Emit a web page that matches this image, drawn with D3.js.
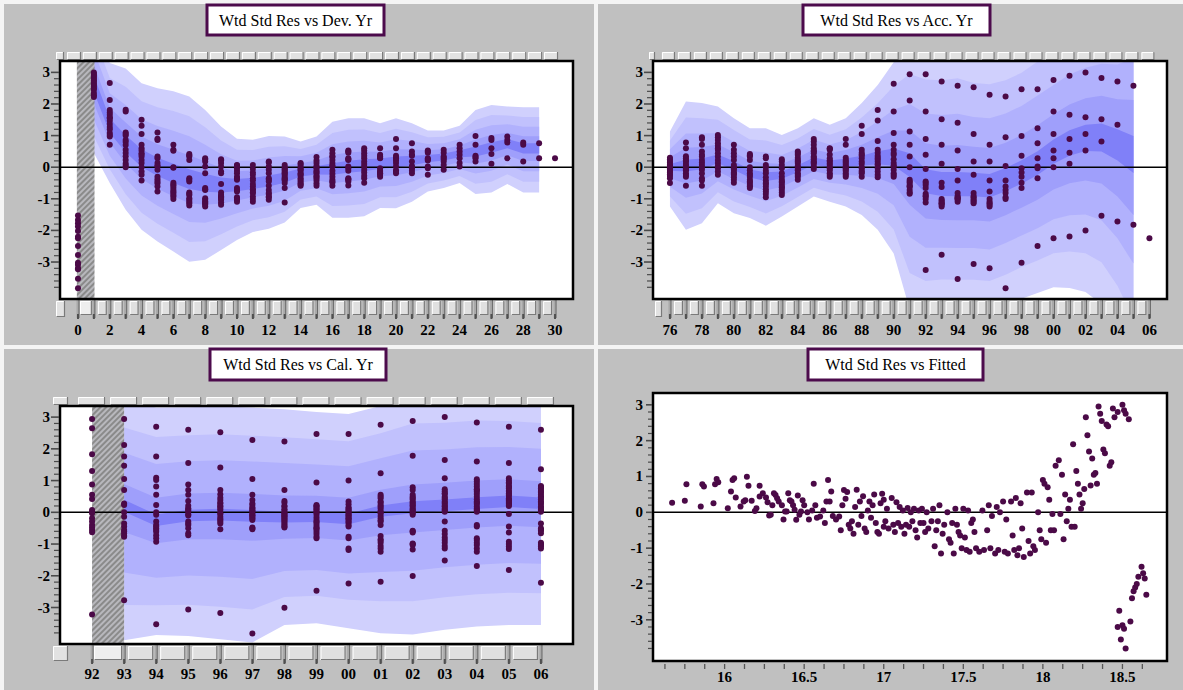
<!DOCTYPE html>
<html><head><meta charset="utf-8">
<script src="https://cdn.jsdelivr.net/npm/d3@7"></script>
<style>
html,body{margin:0;padding:0;background:#f2f2f2;}
svg{display:block;}
</style></head>
<body>
<svg id="chart" width="1183" height="690" font-family="'Liberation Serif','Times New Roman',serif"></svg>
<script>
// ---------- data ----------
const residualTicks = [3, 2, 1, 0, -1, -2, -3];

// development years and residuals per development year
const devYears = d3.range(0, 31);
const devResiduals = [
  [-1.53,-1.67,-1.77,-1.88,-2.02,-2.2,-2.25,-2.49,-2.78,-3.02,-3.09,-3.2,-3.23,-3.53,-3.83],
  [3.0,2.95,2.9,2.85,2.8,2.75,2.7,2.65,2.6,2.55,2.5,2.45,2.35,2.28,2.22],
  [2.66,2.13,1.81,1.73,1.66,1.58,1.55,1.47,1.37,1.27,1.2,1.08,1.02,0.97,0.71],
  [1.82,1.76,1.1,1.05,1.0,0.86,0.8,0.7,0.55,0.45,0.35,0.23,0.12,0.05,0.0],
  [1.5,1.31,1.05,0.71,0.6,0.53,0.44,0.4,0.34,0.23,0.13,0.0,-0.14,-0.24,-0.42],
  [1.1,0.9,0.86,0.34,0.28,0.13,0.05,0.02,-0.08,-0.3,-0.38,-0.45,-0.51,-0.61,-0.77],
  [0.71,0.55,0.52,0.0,-0.02,-0.49,-0.55,-0.59,-0.65,-0.72,-0.78,-0.82,-0.88,-0.93,-1.01],
  [0.42,0.38,0.34,0.23,-0.35,-0.4,-0.45,-0.8,-0.85,-0.88,-0.98,-1.03,-1.09,-1.14,-1.21],
  [0.28,0.25,0.18,0.02,-0.19,-0.66,-0.7,-0.72,-0.98,-1.03,-1.08,-1.12,-1.15,-1.19,-1.24],
  [0.25,0.22,0.13,0.02,-0.14,-0.19,-0.53,-0.8,-0.88,-0.92,-0.95,-1.0,-1.03,-1.12,-1.19],
  [0.07,0.05,-0.03,-0.11,-0.19,-0.3,-0.35,-0.4,-0.66,-0.72,-0.77,-0.95,-1.0,-1.03,-1.09],
  [0.07,-0.06,-0.17,-0.24,-0.35,-0.42,-0.53,-0.61,-0.7,-0.72,-0.8,-0.82,-0.93,-1.01,-1.09],
  [0.18,0.15,0.02,-0.08,-0.19,-0.35,-0.4,-0.45,-0.59,-0.72,-0.82,-0.85,-0.93,-0.95,-1.03],
  [0.07,0.0,-0.05,-0.08,-0.12,-0.17,-0.2,-0.24,-0.3,-0.35,-0.38,-0.42,-0.5,-0.66,-1.12],
  [0.13,0.1,0.04,-0.03,-0.07,-0.11,-0.19,-0.22,-0.27,-0.35,-0.4,-0.45,-0.51,-0.55,-0.59],
  [0.32,0.21,0.13,0.04,0.0,-0.03,-0.11,-0.15,-0.19,-0.27,-0.3,-0.35,-0.42,-0.51,-0.59],
  [0.55,0.44,0.35,0.32,0.23,0.13,0.05,0.02,-0.11,-0.21,-0.3,-0.4,-0.45,-0.49,-0.59],
  [0.53,0.5,0.46,0.28,0.25,0.23,0.02,-0.03,-0.11,-0.35,-0.38,-0.4,-0.45,-0.58],
  [0.6,0.53,0.44,0.36,0.28,0.18,0.1,0.02,-0.08,-0.17,-0.27,-0.35,-0.49],
  [0.6,0.39,0.35,0.3,0.28,-0.03,-0.11,-0.15,-0.19,-0.2,-0.24,-0.3],
  [0.89,0.6,0.36,0.3,0.28,0.21,0.13,0.02,-0.1,-0.14,-0.19],
  [0.76,0.5,0.4,0.36,0.18,0.04,0.0,-0.03,-0.11,-0.19],
  [0.53,0.5,0.46,0.28,0.25,0.21,0.02,-0.03,-0.24],
  [0.55,0.46,0.34,0.3,0.25,0.18,0.07,-0.08],
  [0.71,0.6,0.5,0.39,0.28,0.13,0.02],
  [0.99,0.71,0.36,0.32,0.28,0.18],
  [0.92,0.86,0.6,0.42,0.11],
  [0.97,0.86,0.78,0.28],
  [0.78,0.71,0.18],
  [0.76,0.28],
  [0.28]
];
// fan of the development-year trend: centre, upper and lower reach
const devBandX      = d3.range(1, 30);
const devBandCentre = [2.65,1.3,0.72,0.28,0.0,-0.2,-0.38,-0.48,-0.55,-0.55,-0.5,-0.43,-0.32,-0.16,-0.1,-0.05,0.02,0.07,0.12,0.17,0.22,0.28,0.33,0.43,0.5,0.63,0.75,0.6,0.6];
const devBandHi     = [2.0,2.0,2.4,2.38,2.5,2.6,2.62,2.29,1.84,1.45,1.37,1.42,1.29,0.97,1.07,1.49,1.53,1.48,1.27,1.38,1.17,0.88,0.83,0.88,1.31,1.34,1.17,1.3,1.3];
const devBandLo     = [2.2,1.8,2.07,2.26,2.35,2.47,2.61,2.45,2.07,1.75,1.55,1.52,1.43,1.13,1.09,1.55,1.62,1.62,1.41,1.47,1.31,1.05,0.99,0.93,1.35,1.43,1.28,1.4,1.4];
const devLevels     = [1, 0.76, 0.52, 0.29, 0.12];

// accident years and residuals per accident year
const accYears = d3.range(76, 107);
const accResiduals = [
  [0.3,0.25,0.2,0.15,0.08,0.05,0.0,-0.03,-0.08,-0.12,-0.17,-0.22,-0.28,-0.35,-0.5],
  [0.78,0.6,0.35,0.28,0.22,0.18,0.1,0.05,-0.03,-0.08,-0.1,-0.19,-0.25,-0.3,-0.59],
  [0.95,0.89,0.71,0.5,0.39,0.34,0.23,0.15,0.07,0.0,-0.08,-0.2,-0.35,-0.42,-0.59],
  [1.02,0.95,0.86,0.76,0.68,0.6,0.55,0.44,0.34,0.23,0.13,0.04,-0.03,-0.14,-0.24],
  [0.71,0.55,0.44,0.34,0.23,0.07,0.0,-0.05,-0.08,-0.17,-0.2,-0.24,-0.32,-0.4,-0.49],
  [0.42,0.38,0.34,0.23,0.0,-0.1,-0.19,-0.25,-0.3,-0.4,-0.45,-0.49,-0.56,-0.6,-0.66],
  [0.34,0.28,0.07,0.0,-0.11,-0.19,-0.32,-0.42,-0.5,-0.53,-0.61,-0.7,-0.77,-0.85,-0.95],
  [0.25,0.18,0.07,-0.03,-0.19,-0.3,-0.4,-0.45,-0.49,-0.56,-0.63,-0.65,-0.72,-0.8,-0.88],
  [0.5,0.45,0.39,0.3,0.23,0.18,0.13,0.04,0.0,-0.06,-0.1,-0.19,-0.25,-0.3,-0.4],
  [0.89,0.81,0.71,0.6,0.53,0.5,0.44,0.34,0.3,0.25,0.18,0.15,0.11,0.02,-0.06],
  [0.6,0.58,0.55,0.4,0.28,0.22,0.18,0.12,0.07,0.0,-0.03,-0.1,-0.19,-0.25,-0.3],
  [0.89,0.71,0.3,0.23,0.18,0.13,0.08,0.02,0.0,-0.03,-0.08,-0.12,-0.19,-0.25,-0.3],
  [1.31,1.05,0.55,0.46,0.4,0.36,0.28,0.18,0.11,0.0,-0.03,-0.11,-0.15,-0.19,-0.3],
  [1.81,1.48,0.83,0.55,0.46,0.36,0.3,0.25,0.18,0.1,0.07,-0.03,-0.14,-0.24,-0.32],
  [2.64,1.76,1.08,0.71,0.55,0.45,0.39,0.25,0.13,0.05,0.02,-0.08,-0.19,-0.25,-0.3],
  [2.94,2.11,1.13,0.71,0.34,0.0,-0.4,-0.45,-0.49,-0.56,-0.6,-0.63,-0.72,-0.8,-0.84],
  [2.94,1.76,0.89,0.39,-0.06,-0.45,-0.5,-0.56,-0.66,-0.84,-0.9,-0.93,-1.01,-1.12,-3.25],
  [2.71,1.52,0.71,0.11,-0.49,-0.63,-1.01,-1.05,-1.09,-1.14,-1.15,-1.19,-1.24,-2.77],
  [2.58,1.41,0.53,-0.06,-0.42,-0.82,-0.91,-0.95,-0.98,-1.0,-1.03,-1.09,-3.54],
  [2.53,1.05,0.18,-0.24,-0.82,-0.91,-0.95,-1.01,-1.05,-1.09,-1.14,-3.06],
  [2.29,0.71,0.18,-0.42,-0.77,-1.01,-1.09,-1.14,-1.19,-1.24,-3.2],
  [2.24,0.95,0.04,-0.42,-0.61,-0.72,-0.82,-0.95,-1.01,-3.83],
  [2.47,0.99,0.36,-0.03,-0.17,-0.3,-0.49,-0.66,-3.02],
  [2.47,1.23,0.76,0.28,0.02,-0.03,-0.35,-2.49],
  [2.76,1.76,1.05,0.53,0.28,0.0,-2.25],
  [2.89,1.66,0.89,0.46,0.11,-2.19],
  [3.0,1.58,1.05,0.53,-2.0],
  [2.82,1.52,0.81,-1.54],
  [2.71,1.34,-1.72],
  [2.58,-1.82],
  [-2.25]
];
const accTickLabels = ["76","78","80","82","84","86","88","90","92","94","96","98","00","02","04","06"];
const accBandX      = d3.range(76, 106);
const accBandCentre = [0.0,0.05,0.1,0.25,0.05,-0.2,-0.3,-0.25,-0.05,0.18,0.1,0.15,0.2,0.3,0.32,0.1,-0.45,-0.55,-0.56,-0.56,-0.6,-0.4,-0.16,0.12,0.5,0.78,0.95,0.97,0.75,0.45];
const accBandHi     = [1.13,2.03,1.93,1.67,1.5,1.43,1.53,1.27,1.28,1.37,1.24,1.4,1.83,2.3,3.0,3.8,4.3,4.4,4.5,4.3,4.3,4.2,4.2,4.3,4.2,4.3,4.4,4.6,5.0,6.0];
const accBandLo     = [1.24,2.03,1.87,1.39,1.51,1.41,1.55,1.31,1.19,1.11,1.19,1.39,1.71,2.28,3.05,4.6,4.2,4.0,4.0,4.0,4.0,4.0,4.0,4.1,4.3,4.6,4.9,5.3,6.0,7.0];
const accLevels     = [1, 0.75, 0.5, 0.28, 0.09];

// calendar years and residuals per calendar year
const calYears = d3.range(92, 107);
const calResiduals = [
  [2.94,2.65,1.83,1.3,0.88,0.55,0.42,0.07,0.02,-0.03,-0.19,-0.29,-0.4,-0.48,-0.56,-0.63,-3.22],
  [2.94,2.12,1.76,1.47,1.05,0.7,0.28,0.23,0.0,-0.14,-0.35,-0.45,-0.56,-0.6,-0.66,-0.74,-0.77,-2.77],
  [2.7,1.76,1.09,1.02,0.81,0.55,0.23,0.0,-0.08,-0.29,-0.4,-0.45,-0.5,-0.56,-0.61,-0.72,-0.82,-0.93,-3.53],
  [2.6,1.55,0.88,0.7,0.55,0.36,0.21,0.13,0.1,0.05,0.02,-0.06,-0.1,-0.29,-0.35,-0.4,-0.5,-0.66,-0.72,-3.06],
  [2.52,1.41,0.7,0.57,0.46,0.39,0.3,0.28,0.2,0.18,0.12,0.07,-0.03,-0.05,-0.14,-0.2,-0.24,-0.3,-0.35,-0.53,-3.17],
  [2.28,1.05,0.55,0.39,0.28,0.23,0.15,0.13,0.07,0.05,0.02,-0.03,-0.08,-0.1,-0.12,-0.17,-0.2,-0.24,-0.48,-0.5,-0.53,-3.82],
  [2.23,0.7,0.36,0.3,0.2,0.18,0.1,0.07,0.0,-0.03,-0.05,-0.1,-0.12,-0.15,-0.19,-0.22,-0.27,-0.3,-0.35,-0.4,-0.45,-0.48,-3.01],
  [2.47,0.94,0.23,0.2,0.18,0.13,0.1,0.05,0.0,-0.01,-0.08,-0.16,-0.24,-0.3,-0.33,-0.4,-0.47,-0.5,-0.54,-0.61,-0.68,-0.77,-0.82,-2.47],
  [2.47,1.0,0.34,0.25,0.16,0.12,0.09,0.05,0.02,-0.03,-0.08,-0.1,-0.14,-0.19,-0.2,-0.24,-0.3,-0.33,-0.4,-0.45,-0.77,-0.82,-1.14,-1.19,-2.24],
  [2.76,1.23,0.55,0.5,0.44,0.34,0.3,0.23,0.18,0.13,0.05,0.0,-0.03,-0.12,-0.19,-0.25,-0.29,-0.4,-0.75,-0.85,-0.9,-0.96,-1.06,-1.14,-1.24,-2.19],
  [2.88,1.78,0.79,0.7,0.55,0.49,0.45,0.41,0.34,0.3,0.26,0.22,0.18,0.12,0.09,0.05,0.02,-0.03,-0.08,-0.58,-0.6,-0.64,-0.98,-1.0,-1.03,-1.17,-2.01],
  [3.0,1.65,1.07,0.73,0.66,0.6,0.58,0.49,0.45,0.41,0.34,0.3,0.26,0.2,0.18,0.12,0.09,0.05,0.02,-0.29,-0.58,-0.68,-0.79,-0.87,-0.96,-1.06,-1.14,-1.52],
  [2.83,1.6,1.04,0.97,0.89,0.81,0.73,0.7,0.65,0.58,0.49,0.41,0.34,0.3,0.26,0.18,0.12,0.09,0.05,0.02,-0.4,-0.45,-0.82,-0.87,-0.96,-1.03,-1.14,-1.24,-1.69],
  [2.7,1.55,1.07,1.0,0.95,0.91,0.83,0.8,0.76,0.68,0.65,0.6,0.55,0.52,0.44,0.4,0.37,0.33,0.3,0.27,0.23,0.2,-0.05,-0.45,-0.64,-0.93,-1.0,-1.08,-1.16,-1.82],
  [2.6,1.36,0.83,0.8,0.76,0.7,0.65,0.62,0.55,0.5,0.47,0.41,0.34,0.3,0.26,0.18,0.15,0.09,0.05,0.02,-0.35,-0.5,-0.55,-0.58,-0.66,-0.96,-1.0,-1.03,-1.08,-1.14,-2.22]
];
const calTickLabels = ["92","93","94","95","96","97","98","99","00","01","02","03","04","05","06"];
const calBandX      = d3.range(93, 107);
const calBandCentre = [0.23,-0.25,-0.09,-0.06,-0.1,-0.15,-0.14,-0.2,0.05,0.17,0.23,0.3,0.36,0.3];
const calBandHi     = [3.3,3.55,3.4,3.4,3.4,3.4,3.3,3.3,3.3,3.55,3.5,3.5,3.4,3.4];
const calBandLo     = [4.26,3.62,3.81,3.94,4.0,3.4,3.36,3.45,3.86,4.02,3.93,3.9,3.91,3.85];
const calLevels     = [1, 0.74, 0.5, 0.2, 0.05];

// fitted values (log scale) with their residuals
const fittedPoints = [
  [15.67,0.27],[15.75,0.32],[15.76,0.78],[15.85,0.16],[15.86,0.78],[15.87,0.72],[15.93,0.25],[15.94,0.78],[15.95,0.93],[15.96,0.84],
  [16.02,0.11],[16.04,0.58],[16.05,0.9],[16.06,0.95],[16.07,0.41],[16.10,0.16],[16.12,0.3],[16.13,0.34],[16.14,0.99],[16.15,0.74],
  [16.17,0.32],[16.19,0.04],[16.2,0.11],[16.22,0.44],[16.22,0.74],[16.24,0.53],[16.26,0.41],[16.27,0.28],[16.28,-0.09],[16.29,-0.07],
  [16.3,0.2],[16.31,0.53],[16.32,0.48],[16.33,0.39],[16.34,0.3],[16.36,0.2],[16.37,-0.2],[16.38,0.02],[16.39,0.02],[16.4,0.53],
  [16.41,0.34],[16.42,0.3],[16.43,0.2],[16.44,0.07],[16.45,-0.21],[16.46,0.47],[16.47,-0.07],[16.48,0.02],[16.49,0.34],[16.5,0.2],
  [16.52,0.0],[16.53,-0.2],[16.55,0.05],[16.56,0.8],[16.57,0.2],[16.58,-0.15],[16.6,-0.12],[16.62,0.05],[16.63,-0.3],[16.64,0.3],
  [16.65,0.9],[16.66,0.3],[16.67,0.58],[16.68,-0.1],[16.7,-0.2],[16.72,-0.12],[16.73,-0.5],[16.74,0.2],[16.75,0.62],[16.76,0.38],
  [16.77,0.57],[16.78,-0.35],[16.79,-0.45],[16.8,-0.25],[16.81,-0.6],[16.82,0.15],[16.83,0.63],[16.84,-0.35],[16.85,0.3],[16.86,-0.1],
  [16.87,0.45],[16.88,-0.45],[16.89,-0.55],[16.9,0.05],[16.91,0.3],[16.92,-0.15],[16.93,0.2],[16.94,0.5],[16.95,-0.3],[16.96,-0.55],
  [16.97,-0.6],[16.98,0.25],[16.99,0.52],[17.0,-0.4],[17.01,-0.25],[17.0,0.35],[17.02,0.1],[17.03,-0.45],[17.05,0.4],[17.06,-0.35],
  [17.07,-0.55],[17.08,0.28],[17.09,-0.3],[17.1,0.15],[17.11,-0.4],[17.12,0.05],[17.13,-0.6],[17.14,-0.35],[17.15,0.12],[17.16,-0.4],
  [17.17,0.0],[17.18,-0.25],[17.19,0.1],[17.2,-0.5],[17.21,-0.7],[17.22,0.05],[17.23,-0.3],[17.24,0.1],[17.25,-0.3],[17.26,-0.55],
  [17.27,0.0],[17.28,-0.45],[17.3,-0.25],[17.31,0.1],[17.32,-0.95],[17.33,-0.5],[17.34,-0.25],[17.35,0.2],[17.36,-1.15],[17.37,-0.6],
  [17.38,-0.35],[17.4,0.0],[17.41,-0.75],[17.42,-0.85],[17.43,-0.3],[17.44,-1.15],[17.45,0.1],[17.46,-0.35],[17.47,-0.55],[17.48,-0.65],
  [17.49,-1.0],[17.5,0.1],[17.51,-0.7],[17.52,-1.05],[17.53,0.05],[17.54,-1.1],[17.55,-0.3],[17.56,-0.2],[17.57,-0.55],[17.58,-1.0],
  [17.6,-1.1],[17.62,0.05],[17.63,-1.05],[17.65,-0.5],[17.66,0.2],[17.67,-1.0],[17.68,-0.1],[17.7,-1.15],[17.71,0.15],[17.72,-1.05],
  [17.73,0.0],[17.75,0.3],[17.76,-1.1],[17.77,-0.2],[17.78,-1.15],[17.8,0.3],[17.81,-0.65],[17.82,-1.05],[17.83,0.4],[17.84,-1.2],
  [17.85,-1.0],[17.86,0.25],[17.87,-0.45],[17.88,-1.25],[17.9,0.55],[17.91,-0.8],[17.92,-1.15],[17.93,0.55],[17.94,-0.95],[17.95,-1.05],
  [17.97,0.0],[17.98,-0.5],[17.99,-0.75],[18.0,0.9],[18.01,0.8],[18.02,-0.85],[18.03,0.7],[18.04,0.35],[18.05,-0.5],[18.06,-0.05],
  [18.07,-0.5],[18.08,1.3],[18.1,1.45],[18.11,-0.05],[18.12,1.05],[18.13,-0.75],[18.14,0.5],[18.15,-0.25],[18.16,0.1],[18.17,0.35],
  [18.18,-0.4],[18.19,1.9],[18.2,-0.4],[18.21,1.15],[18.22,0.8],[18.23,0.5],[18.24,0.1],[18.25,0.25],[18.26,0.65],[18.27,2.65],
  [18.28,2.15],[18.29,1.7],[18.3,0.75],[18.31,1.5],[18.32,1.05],[18.33,1.1],[18.34,0.8],[18.35,2.95],[18.36,2.75],[18.37,2.55],
  [18.38,1.75],[18.39,1.65],[18.4,2.45],[18.41,2.4],[18.42,1.3],[18.43,1.4],[18.44,2.9],[18.45,2.65],[18.47,2.8],[18.5,3.0],
  [18.51,2.85],[18.52,2.75],[18.54,2.6],
  [18.47,-3.2],[18.48,-2.75],[18.49,-3.55],[18.5,-3.15],[18.51,-3.25],[18.52,-3.8],[18.55,-3.05],[18.56,-2.4],[18.57,-2.2],[18.58,-2.1],
  [18.59,-2.0],[18.6,-1.8],[18.62,-1.52],[18.63,-1.7],[18.64,-1.85],[18.65,-2.3]
];
const fittedTicks = [16, 16.5, 17, 17.5, 18, 18.5];

// ---------- drawing ----------
const W = 1183, H = 690;
const bandColors = ["#d0d0fd", "#c1c1fd", "#b1b1fd", "#9f9ffb", "#8080f8"];
const pointColor = "#4b0a47";
const svg = d3.select("#chart");
const defs = svg.append("defs");

const hatch = defs.append("pattern").attr("id", "hatch")
  .attr("patternUnits", "userSpaceOnUse").attr("width", 4).attr("height", 4)
  .attr("patternTransform", "rotate(45)");
hatch.append("rect").attr("width", 4).attr("height", 4).attr("fill", "#8a8a8a");
hatch.append("line").attr("x1", 1).attr("y1", 0).attr("x2", 1).attr("y2", 4)
  .attr("stroke", "#e6e6f0").attr("stroke-width", 1);

svg.append("rect").attr("width", W).attr("height", H).attr("fill", "#f4f4f4");
[[4, 4, 590, 341], [598, 4, 585, 341], [4, 349, 590, 341], [598, 349, 585, 341]].forEach(([x, y, w, h]) =>
  svg.append("rect").attr("x", x).attr("y", y).attr("width", w).attr("height", h).attr("fill", "#c0c0c0"));

const fmtRes = v => (v < 0 ? "-" + Math.abs(v) : String(v));

function button(g, x, y, w, h, fill) {
  g.append("rect").attr("x", x).attr("y", y).attr("width", w).attr("height", h).attr("fill", fill || "#e2e2e2");
  g.append("path").attr("d", `M${x + 0.5},${y + h}V${y + 0.5}H${x + w}`)
    .attr("fill", "none").attr("stroke", "#ffffff").attr("stroke-width", 1);
  g.append("path").attr("d", `M${x + 0.5},${y + h - 0.5}H${x + w - 0.5}V${y}`)
    .attr("fill", "none").attr("stroke", "#7a7a7a").attr("stroke-width", 1.2);
}

function panel(cfg, idx) {
  const g = svg.append("g");
  const x = d3.scaleLinear().domain(cfg.xDomain).range([cfg.left, cfg.right]);
  const y = d3.scaleLinear().domain(cfg.yDomain).range([cfg.bottom, cfg.top]);

  // title box
  const tb = cfg.titleBox;
  g.append("rect").attr("x", tb[0]).attr("y", tb[1]).attr("width", tb[2]).attr("height", tb[3])
    .attr("fill", "#ffffff").attr("stroke", "#4c0b4c").attr("stroke-width", 3);
  g.append("text").attr("x", tb[0] + tb[2] / 2).attr("y", tb[1] + 21).attr("text-anchor", "middle")
    .attr("font-size", 16).attr("fill", "#000").text(cfg.title);

  // scroll-bar style strips above and below the plot
  if (cfg.topStrip) {
    const s = cfg.topStrip;
    button(g, s.first[0], cfg.top - 9, s.first[1], 8);
    s.keys.forEach(k => button(g, x(k) + s.off, cfg.top - 9, s.w, 8));
  }
  if (cfg.bottomStrip) {
    const s = cfg.bottomStrip, yb = cfg.bottom + 2;
    button(g, s.first[0], yb, s.first[1], s.first[2]);
    for (let i = 0; i < s.keys.length - 1; i++) {
      const a = s.keys[i], b = s.keys[i + 1];
      const sel = s.selected === a;
      button(g, x(a) + (sel ? 2 : 4), yb, x(b) - x(a) - (sel ? 4 : 7), 14, sel ? "#eeeeee" : "#e0e0e0");
    }
    s.keys.forEach(k => {
      g.append("rect").attr("x", x(k) - 1.5).attr("y", cfg.bottom + 1).attr("width", 3).attr("height", 18).attr("fill", "#a9a9a9");
      g.append("line").attr("x1", x(k) + 1).attr("x2", x(k) + 1).attr("y1", cfg.bottom + 1).attr("y2", cfg.bottom + 19)
        .attr("stroke", "#6a6a6a").attr("stroke-width", 1);
      g.append("line").attr("x1", x(k)).attr("x2", x(k)).attr("y1", cfg.bottom + 15).attr("y2", cfg.bottom + 20)
        .attr("stroke", "#505050").attr("stroke-width", 2);
    });
  }

  // plot area
  g.append("rect").attr("x", cfg.left).attr("y", cfg.top).attr("width", cfg.right - cfg.left)
    .attr("height", cfg.bottom - cfg.top).attr("fill", "#ffffff");
  const clipId = "clip" + idx;
  defs.append("clipPath").attr("id", clipId).append("rect")
    .attr("x", cfg.left).attr("y", cfg.top).attr("width", cfg.right - cfg.left).attr("height", cfg.bottom - cfg.top);
  const plot = g.append("g").attr("clip-path", `url(#${clipId})`);

  if (cfg.band) {
    const b = cfg.band;
    b.levels.forEach((lv, k) => {
      const area = d3.area()
        .x((d, i) => x(b.x[i]))
        .y0((d, i) => y(b.c[i] - b.lo[i] * lv))
        .y1((d, i) => y(b.c[i] + b.hi[i] * lv));
      plot.append("path").datum(b.x).attr("d", area).attr("fill", bandColors[k]);
    });
  }
  if (cfg.hatch) {
    plot.append("rect").attr("x", x(cfg.hatch[0])).attr("y", cfg.top)
      .attr("width", x(cfg.hatch[1]) - x(cfg.hatch[0])).attr("height", cfg.bottom - cfg.top)
      .attr("fill", "url(#hatch)");
  }
  plot.append("line").attr("x1", cfg.left).attr("x2", cfg.right).attr("y1", y(0)).attr("y2", y(0))
    .attr("stroke", "#000").attr("stroke-width", 1.5);

  plot.append("g").selectAll("circle").data(cfg.points).join("circle")
    .attr("cx", d => x(d[0])).attr("cy", d => y(d[1])).attr("r", 3).attr("fill", pointColor);

  g.append("rect").attr("x", cfg.left).attr("y", cfg.top).attr("width", cfg.right - cfg.left)
    .attr("height", cfg.bottom - cfg.top).attr("fill", "none").attr("stroke", "#000").attr("stroke-width", 2.5);

  // residual axis: labelled integers, minor marks every 0.2
  const ax = g.append("g");
  d3.range(-19, 16).forEach(k => {
    const major = k % 5 === 0;
    ax.append("line").attr("x1", cfg.left - (major ? cfg.yMajor : cfg.yMinor)).attr("x2", cfg.left - 1)
      .attr("y1", y(k / 5)).attr("y2", y(k / 5)).attr("stroke", "#4a4a4a").attr("stroke-width", major ? 1.6 : 1.2);
  });
  residualTicks.forEach(v => {
    ax.append("text").attr("x", cfg.left - 10).attr("y", y(v) + 5).attr("text-anchor", "end")
      .attr("font-size", 15).attr("font-weight", "bold").text(fmtRes(v));
  });

  // horizontal axis labels
  cfg.xLabels.forEach(([v, t]) => {
    g.append("text").attr("x", x(v)).attr("y", cfg.xLabelY).attr("text-anchor", "middle")
      .attr("font-size", 15).attr("font-weight", "bold").text(t);
  });
  if (cfg.xMinor) {
    cfg.xMinor.forEach(v => {
      g.append("line").attr("x1", x(v)).attr("x2", x(v)).attr("y1", cfg.bottom + 3).attr("y2", cfg.bottom + 8)
        .attr("stroke", "#555").attr("stroke-width", 1.3);
    });
  }
}

const flat = (keys, groups) => keys.flatMap((k, i) => groups[i].map(v => [k, v]));

panel({
  title: "Wtd Std Res vs Dev. Yr", titleBox: [207, 5, 177, 30],
  left: 60, right: 573, top: 61, bottom: 299,
  xDomain: [-1.13, 31.13], yDomain: [-4.17, 3.36], yMajor: 9, yMinor: 6,
  band: { x: devBandX, c: devBandCentre, hi: devBandHi, lo: devBandLo, levels: devLevels },
  hatch: [-0.07, 1.04],
  points: flat(devYears, devResiduals),
  topStrip: { first: [56, 8], keys: d3.range(0, 31), off: -11, w: 14 },
  bottomStrip: { first: [56, 9, 16], keys: d3.range(0, 31), selected: 0 },
  xLabels: d3.range(0, 31, 2).map(v => [v, String(v)]), xLabelY: 335
}, 0);

panel({
  title: "Wtd Std Res vs Acc. Yr", titleBox: [803, 5, 187, 30],
  left: 653, right: 1167, top: 61, bottom: 299,
  xDomain: [74.94, 107.1], yDomain: [-4.17, 3.36], yMajor: 9, yMinor: 6,
  band: { x: accBandX, c: accBandCentre, hi: accBandHi, lo: accBandLo, levels: accLevels },
  points: flat(accYears, accResiduals),
  topStrip: { first: [649, 6], keys: d3.range(76, 107), off: -8, w: 13 },
  bottomStrip: { first: [655, 7, 16], keys: d3.range(76, 107), selected: null },
  xLabels: accTickLabels.map((t, i) => [76 + 2 * i, t]), xLabelY: 335
}, 1);

panel({
  title: "Wtd Std Res vs Cal. Yr", titleBox: [210, 349, 176, 31],
  left: 60, right: 573, top: 406, bottom: 644,
  xDomain: [91, 107], yDomain: [-4.15, 3.35], yMajor: 9, yMinor: 6,
  band: { x: calBandX, c: calBandCentre, hi: calBandHi, lo: calBandLo, levels: calLevels },
  hatch: [92, 93],
  points: flat(calYears, calResiduals),
  topStrip: { first: [53, 15], keys: d3.range(92, 107), off: -14, w: 27 },
  bottomStrip: { first: [53, 15, 15], keys: d3.range(92, 107), selected: 92 },
  xLabels: calTickLabels.map((t, i) => [92 + i, t]), xLabelY: 679
}, 2);

panel({
  title: "Wtd Std Res vs Fitted", titleBox: [808, 349, 175, 31],
  left: 653, right: 1167, top: 393, bottom: 661,
  xDomain: [15.55, 18.78], yDomain: [-4.15, 3.33], yMajor: 7, yMinor: 5,
  points: fittedPoints,
  xMinor: d3.range(15.625, 18.63, 0.125),
  xLabels: fittedTicks.map(v => [v, String(v)]), xLabelY: 682
}, 3);
</script>
</body></html>
